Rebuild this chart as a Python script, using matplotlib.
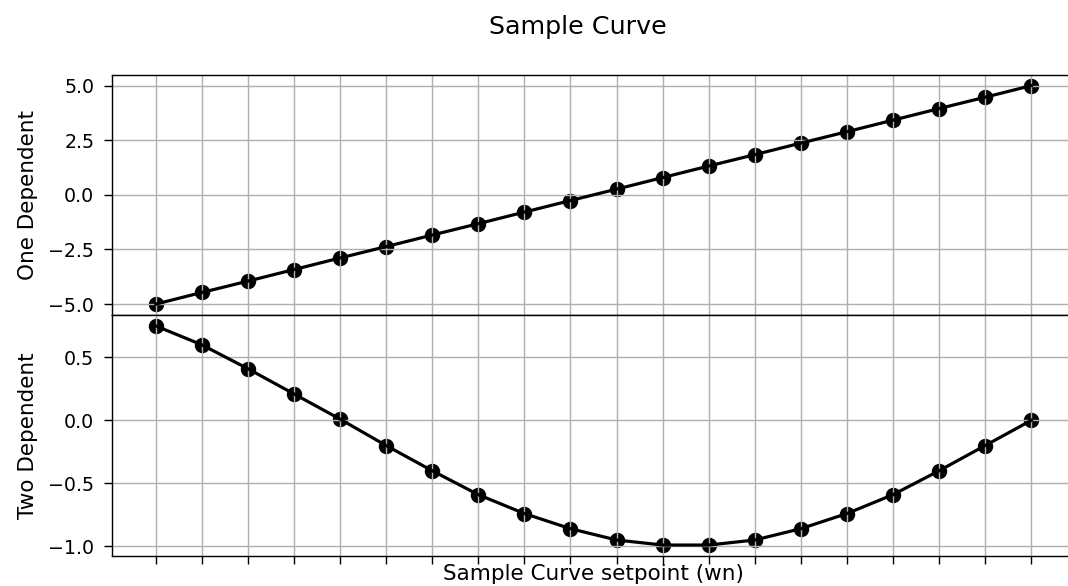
import numpy as np
import matplotlib
matplotlib.use("Agg")
import matplotlib.pyplot as plt

# data
x = np.arange(20)
one_dep = [-5.0, -4.47, -3.95, -3.42, -2.89, -2.37, -1.84, -1.32, -0.79, -0.26,
           0.26, 0.79, 1.32, 1.84, 2.37, 2.89, 3.42, 3.95, 4.47, 5.0]
two_dep = [0.75, 0.60, 0.41, 0.21, 0.01, -0.20, -0.40, -0.59, -0.74, -0.86,
           -0.95, -0.99, -0.99, -0.95, -0.86, -0.74, -0.59, -0.40, -0.20, 0.0]
one_ticks = [-5.0, -2.5, 0.0, 2.5, 5.0]
two_ticks = [-1.0, -0.5, 0.0, 0.5]

dpi = 127
fig = plt.figure(figsize=(1068 / dpi, 586 / dpi), dpi=dpi)

left = 112 / 1068
width = 963 / 1068
ax1 = fig.add_axes([left, 0.4625, width, 0.8725 - 0.4625])
ax2 = fig.add_axes([left, 0.0512, width, 0.4625 - 0.0512], sharex=ax1)

for ax, y, lab, yt in [(ax1, one_dep, "One Dependent", one_ticks),
                       (ax2, two_dep, "Two Dependent", two_ticks)]:
    ax.scatter(x, y, color="black", s=60)
    ax.plot(x, y, color="black", linewidth=1.8)
    ax.set_ylabel(lab, fontsize=12.2, labelpad=6)
    ax.set_yticks(yt)
    ax.set_xticks(x)
    ax.tick_params(labelsize=10.8, length=4.5, pad=5.5)
    ax.grid(True)

ax1.tick_params(labelbottom=False)
ax2.tick_params(labelbottom=False)
ax2.set_xlabel("Sample Curve setpoint (wn)", fontsize=12.2, labelpad=0)

fig.suptitle("Sample Curve", x=578 / 1068, y=0.975, fontsize=14.4)

fig.savefig("out.png", dpi=dpi)
